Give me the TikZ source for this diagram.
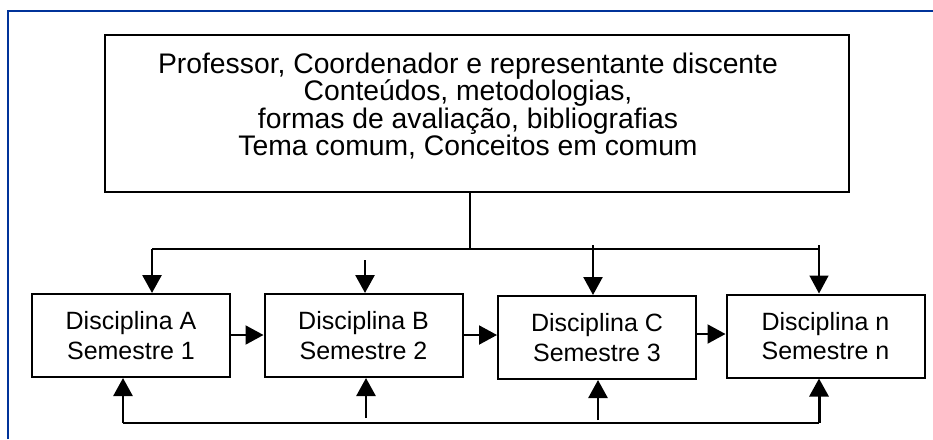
\documentclass[tikz,border=0pt]{standalone}
\usepackage{fontspec}
\setmainfont{Liberation Sans}
\usetikzlibrary{arrows.meta}
\definecolor{moldura}{RGB}{0,51,153}

\begin{document}
\begin{tikzpicture}[x=1pt, y=-1pt, line width=2pt, >={Triangle[length=18pt, width=19pt]},
    caixa/.style={draw, rectangle, minimum width=198pt, minimum height=83pt, align=center,
        inner sep=0pt, font=\fontsize{25}{29.5}\selectfont}]
            \useasboundingbox (0, 0) rectangle (933, 439);
            \draw[moldura, line width=2.5pt] (8, 439) -- (8, 11) -- (933, 11);

            \node[draw, rectangle, minimum width=744pt, minimum height=157pt] (coord) at (477, 113.5) {};
            \node[align=center, inner sep=0pt, font=\fontsize{28.3}{24.8}\selectfont] (coordtext) at (468, 106)
                {Professor, Coordenador e representante discente\\Conteúdos, metodologias,\\
                 formas de avaliação, bibliografias\\Tema comum, Conceitos em comum};

            \newcommand{\disciplina}[4]{
                \node[caixa] (#1) at (#2, #3) {#4};
            }

            \disciplina{discA}{131}{335.5}{Disciplina A\\Semestre 1};
            \disciplina{discB}{363.5}{335.5}{Disciplina B\\Semestre 2};
            \disciplina{discC}{597}{337.5}{Disciplina C\\Semestre 3};
            \disciplina{discN}{825.5}{336}{Disciplina n\\Semestre n};

            \coordinate (junc) at (470, 249);
            \coordinate (topA) at (152, 249);
            \coordinate (topB) at (365, 260);
            \coordinate (topC) at (593, 245);
            \coordinate (topN) at (819, 245);
            \coordinate (botA) at (123, 423);
            \coordinate (botB) at (366, 418);
            \coordinate (botC) at (598, 420);
            \coordinate (botN) at (819, 423);

            \draw (coord.south -| junc) -- (junc);
            \draw (topA) -- (topN |- topA);
            \draw[->, line width=2.8pt] (topA) -- (topA |- discA.north);
            \draw[->, line width=2.8pt] (topB) -- (topB |- discB.north);
            \draw[->, line width=2.4pt] (topC) -- (topC |- discC.north);
            \draw[->, line width=1.5pt] (topN) -- (topN |- discN.north);

            \draw (botA) -- (botN);
            \draw[->, line width=2.6pt] (botA) -- (botA |- discA.south);
            \draw[->, line width=2.6pt] (botB) -- (botB |- discB.south);
            \draw[->, line width=2.6pt] (botC) -- (botC |- discC.south);
            \draw[->, line width=3pt] (botN) -- (botN |- discN.south);

            \draw[->] (discA.east |- 0, 335) -- (discB.west |- 0, 335);
            \draw[->] (discB.east |- 0, 335) -- (discC.west |- 0, 335);
            \draw[->] (discC.east |- 0, 334) -- (discN.west |- 0, 334);
        \end{tikzpicture}
\end{document}
